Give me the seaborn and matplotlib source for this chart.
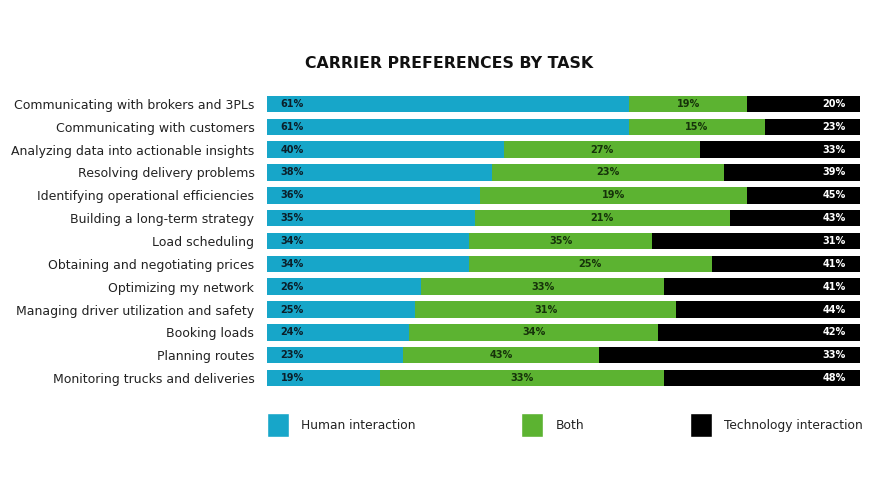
import pandas as pd
import seaborn as sns
import matplotlib.pyplot as plt
from matplotlib.patches import Patch

# data (printed labels)
tasks = [
    "Communicating with brokers and 3PLs",
    "Communicating with customers",
    "Analyzing data into actionable insights",
    "Resolving delivery problems",
    "Identifying operational efficiencies",
    "Building a long-term strategy",
    "Load scheduling",
    "Obtaining and negotiating prices",
    "Optimizing my network",
    "Managing driver utilization and safety",
    "Booking loads",
    "Planning routes",
    "Monitoring trucks and deliveries",
]
human = [61, 61, 40, 38, 36, 35, 34, 34, 26, 25, 24, 23, 19]
both = [19, 15, 27, 23, 19, 21, 35, 25, 33, 31, 34, 43, 33]
technology = [20, 23, 33, 39, 45, 43, 31, 41, 41, 44, 42, 33, 48]

BLUE = "#17a6c9"
GREEN = "#5cb331"
BLACK = "#000000"

df = pd.DataFrame({"task": tasks, "human": human, "both": both, "tech": technology})
# the original graphic sizes the middle segment by the technology share
df["mid_end"] = df["human"] + df["tech"]
df["full"] = 100

sns.set_theme(style="white")
plt.rcParams["font.family"] = ["DejaVu Sans"]

fig = plt.figure(figsize=(8.75, 5), dpi=100)
ax = fig.add_axes([0.305, 0.221, 0.678, 0.594])

bw = 0.72
sns.barplot(data=df, y="task", x="full", color=BLACK, width=bw, ax=ax, orient="h",
            saturation=1, linewidth=0)
sns.barplot(data=df, y="task", x="mid_end", color=GREEN, width=bw, ax=ax, orient="h",
            saturation=1, linewidth=0)
sns.barplot(data=df, y="task", x="human", color=BLUE, width=bw, ax=ax, orient="h",
            saturation=1, linewidth=0)

for i, row in df.iterrows():
    ax.text(2.3, i, f"{row['human']}%", ha="left", va="center", fontsize=7,
            fontweight="bold", color="#0b1f2a")
    ax.text(row["human"] + row["tech"] / 2, i, f"{row['both']}%", ha="center",
            va="center", fontsize=7, fontweight="bold", color="#16330a")
    ax.text(97.6, i, f"{row['tech']}%", ha="right", va="center", fontsize=7,
            fontweight="bold", color="white")

ax.set_xlim(0, 100)
ax.set_ylim(12.5, -0.5)
ax.set_xlabel("")
ax.set_ylabel("")
ax.set_xticks([])
sns.despine(ax=ax, left=True, bottom=True)
ax.tick_params(axis="y", length=0, pad=9, labelsize=9, labelcolor="#222222")

fig.text(0.513, 0.874, "CARRIER PREFERENCES BY TASK", ha="center", va="center",
         fontsize=11.3, fontweight="bold", color="#111111")

handles = [Patch(facecolor=BLUE), Patch(facecolor=GREEN), Patch(facecolor=BLACK)]
fig.legend(handles, ["Human interaction", "Both", "Technology interaction"],
           loc="center left", bbox_to_anchor=(0.292, 0.15), ncol=3, frameon=False,
           fontsize=8.8, handlelength=1.8, handleheight=2.65, handletextpad=1.05,
           columnspacing=8.6, labelcolor="#222222")

fig.savefig("out.png", dpi=100)
